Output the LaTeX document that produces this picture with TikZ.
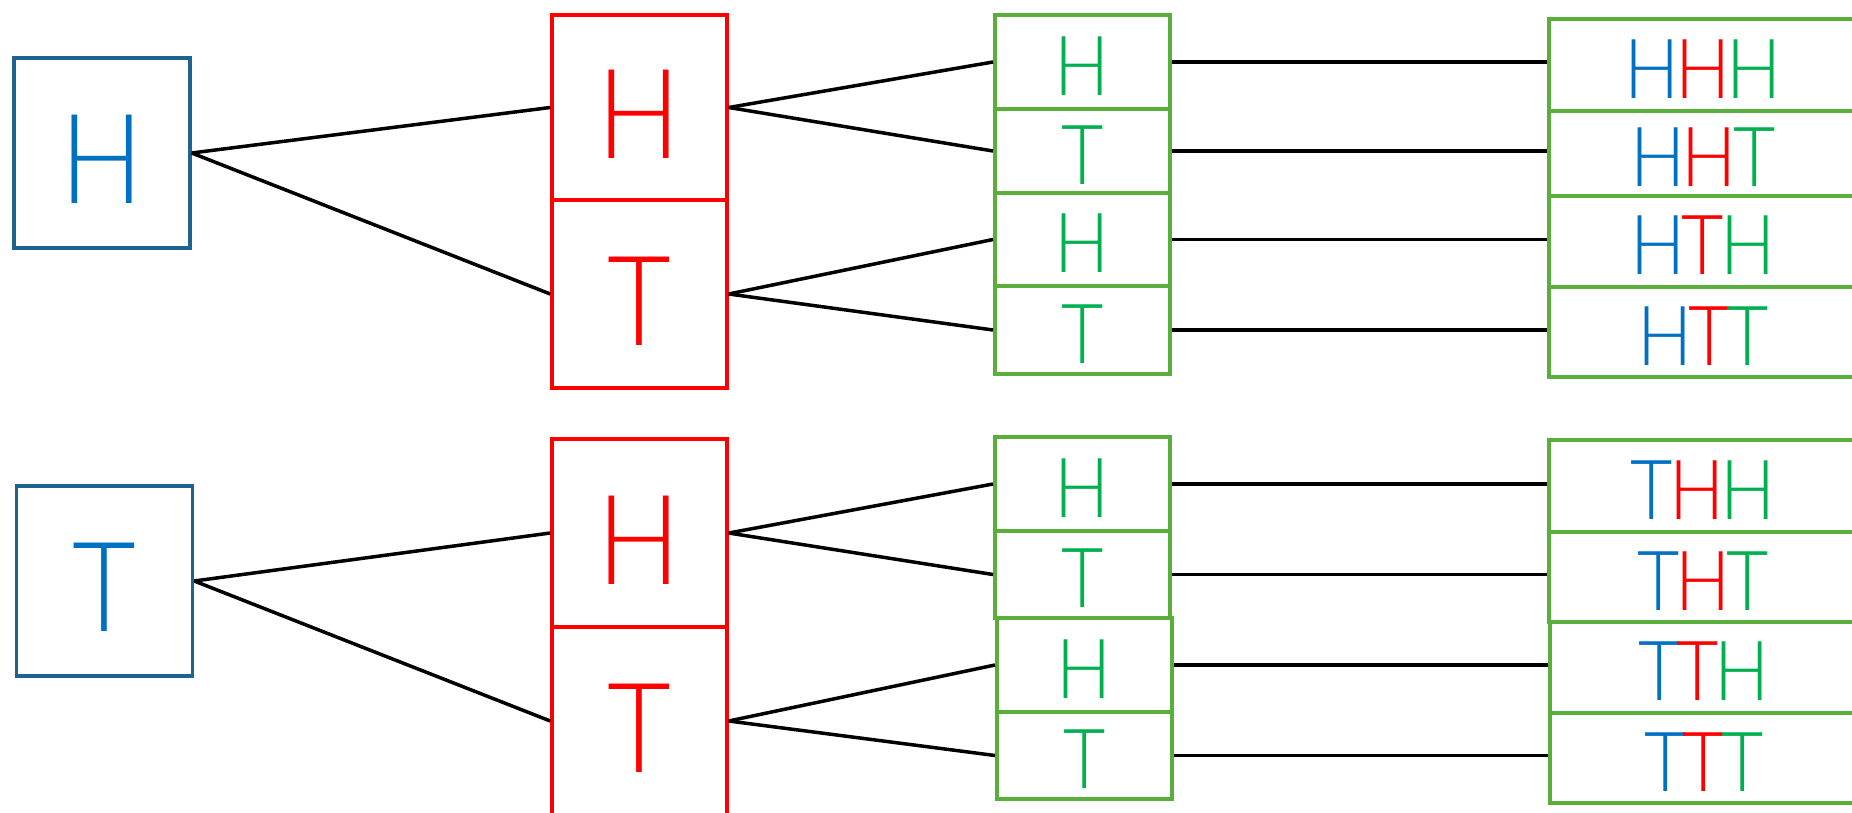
\documentclass[tikz,border=0pt]{standalone}
\usepackage{fontspec}
\setmainfont{Lato Light}[FakeStretch=0.88]
\definecolor{bbox}{HTML}{1F6391}
\definecolor{btxt}{HTML}{0070C0}
\definecolor{rd}{HTML}{FF0000}
\definecolor{gtxt}{HTML}{00B050}
\definecolor{gbox}{HTML}{5AAE3A}
\newlength\lowr
\newcommand{\lo}[1]{\raisebox{-\lowr}[\height][0pt]{#1}}
\newcommand{\Bb}[1]{\textcolor{btxt}{#1}\kern-4pt}
\newcommand{\Rr}[1]{\textcolor{rd}{#1}\kern-4pt}
\newcommand{\Gg}[1]{\textcolor{gtxt}{#1}}
\begin{document}
\begin{tikzpicture}[x=1pt,y=-1pt,
  cellbox/.style={draw, inner sep=0pt, anchor=center},
  coinbox/.style={cellbox, draw=bbox, line width=3.5pt, minimum width=176pt, minimum height=190pt,
    font=\fontsize{125}{125}\selectfont\setlength\lowr{6pt}, text=btxt},
  redbox/.style={cellbox, draw=rd, line width=3.5pt, minimum width=175pt,
    font=\fontsize{125}{125}\selectfont\setlength\lowr{7pt}, text=rd},
  grnbox/.style={cellbox, draw=gbox, line width=4pt, minimum width=175pt,
    font=\fontsize{83}{83}\selectfont\setlength\lowr{4pt}, text=gtxt},
  resbox/.style={cellbox, draw=gbox, line width=4pt, minimum width=308pt,
    font=\fontsize{83}{83}\selectfont\setlength\lowr{4pt}},
  conn/.style={draw=black, line width=3.5pt}]
\useasboundingbox (0,0) rectangle (1852,813);
\begin{scope}
\clip (0,0) rectangle (1852,813);
% ---- top group ----
\node[coinbox] (b1) at (102,153) {\lo{H}};
\node[redbox, minimum height=185pt] (r1) at (639.5,107.5) {\lo{H}};
\node[redbox, minimum height=188pt] (r2) at (639.5,294) {\lo{T}};
\node[grnbox, minimum height=94pt] (g1) at (1082.5,62) {\lo{H}};
\node[grnbox, minimum height=84pt] (g2) at (1082.5,151) {\lo{T}};
\node[grnbox, minimum height=93pt] (g3) at (1082.5,239.5) {\lo{H}};
\node[grnbox, minimum height=88pt] (g4) at (1082.5,330) {\lo{T}};
\node[resbox, minimum height=92pt] (s1) at (1703,65) {\lo{\Bb{H}\Rr{H}\Gg{H}}};
\node[resbox, minimum height=85pt] (s2) at (1703,153.5) {\lo{\Bb{H}\Rr{H}\Gg{T}}};
\node[resbox, minimum height=91pt] (s3) at (1703,241.5) {\lo{\Bb{H}\Rr{T}\Gg{H}}};
\node[resbox, minimum height=90pt] (s4) at (1703,332) {\lo{\Bb{H}\Rr{T}\Gg{T}}};
% ---- bottom group ----
\node[coinbox] (b2) at (104.5,581) {\lo{T}};
\node[redbox, minimum height=188pt] (r3) at (639.5,533) {\lo{H}};
\node[redbox, minimum height=188pt] (r4) at (639.5,721) {\lo{T}};
\node[grnbox, minimum height=94pt] (g5) at (1082.5,484) {\lo{H}};
\node[grnbox, minimum height=87pt] (g6) at (1082.5,574.5) {\lo{T}};
\node[grnbox, minimum height=94pt] (g7) at (1084.5,665) {\lo{H}};
\node[grnbox, minimum height=87pt] (g8) at (1084.5,755.5) {\lo{T}};
\node[resbox, minimum height=92pt] (s5) at (1703,486) {\lo{\Bb{T}\Rr{H}\Gg{H}}};
\node[resbox, minimum height=90pt] (s6) at (1703,577) {\lo{\Bb{T}\Rr{H}\Gg{T}}};
\node[resbox, minimum height=91pt] (s7) at (1704,667.5) {\lo{\Bb{T}\Rr{T}\Gg{H}}};
\node[resbox, minimum height=90pt] (s8) at (1704,758) {\lo{\Bb{T}\Rr{T}\Gg{T}}};
% ---- connectors ----
\draw[conn] (b1.east) -- (r1.west);
\draw[conn] (b1.east) -- (r2.west);
\draw[conn] (r1.east) -- (g1.west);
\draw[conn] (r1.east) -- (g2.west);
\draw[conn] (r2.east) -- (g3.west);
\draw[conn] (r2.east) -- (g4.west);
\draw[conn] (b2.east) -- (r3.west);
\draw[conn] (b2.east) -- (r4.west);
\draw[conn] (r3.east) -- (g5.west);
\draw[conn] (r3.east) -- (g6.west);
\draw[conn] (r4.east) -- (g7.west);
\draw[conn] (r4.east) -- (g8.west);
\foreach \g/\s in {g1/s1,g2/s2,g3/s3,g4/s4,g5/s5,g6/s6,g7/s7,g8/s8}
  \draw[conn] (\g.east) -- (\g.east -| \s.west);
\end{scope}
\end{tikzpicture}
\end{document}
